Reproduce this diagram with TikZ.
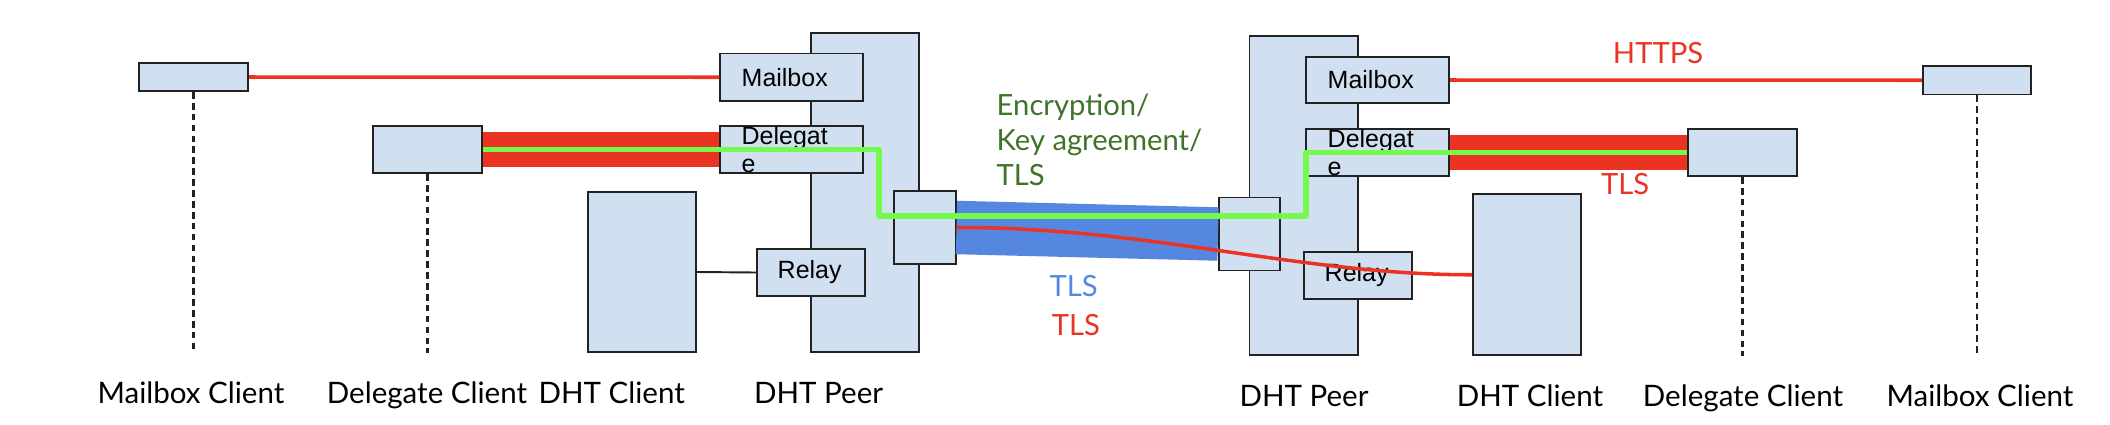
\documentclass[tikz,border=0pt]{standalone}
\usepackage{fontspec}
\setmainfont{Lato}
\newfontfamily\arialfont{Liberation Sans}
\usepackage{tikz}
\usetikzlibrary{calc,positioning}
\definecolor{boxfill}{RGB}{208,224,240}
\definecolor{boxline}{RGB}{34,34,34}
\definecolor{tlsred}{RGB}{234,51,35}
\definecolor{tlsblue}{RGB}{86,135,224}
\definecolor{keygreen}{RGB}{117,249,77}
\definecolor{txtgreen}{RGB}{62,115,40}

\begin{document}
\begin{tikzpicture}[x=0.01cm,y=-0.01cm,
  box/.style={draw=boxline,fill=boxfill,line width=0.55pt,inner sep=0pt},
  boxlbl/.style={inner sep=0pt,align=left,font=\arialfont\fontsize{7.1}{8.1}\selectfont},
  caption/.style={inner sep=0pt,anchor=base,font=\fontsize{8.4}{10}\selectfont},
  proto/.style={inner sep=0pt,align=left,font=\fontsize{8.3}{9.9}\selectfont},
  thinred/.style={tlsred,line width=1pt},
  redband/.style={tlsred,line width=10.1pt},
  blueband/.style={tlsblue,line width=15.2pt},
  greenline/.style={keygreen,line width=1.7pt,line join=round},
  dashline/.style={boxline,line width=0.68pt,dash pattern=on 1.9pt off 1.2pt}]
\useasboundingbox (0,0) rectangle (2110,424);

\node[box,minimum width=1.08cm,minimum height=3.19cm] (peerL) at (865,192.5) {};
\node[box,minimum width=1.085cm,minimum height=3.19cm] (peerR) at (1303.75,195.5) {};
\node[box,minimum width=1.09cm,minimum height=0.28cm] (mcL) at (193.5,77) {};
\node[box,minimum width=1.08cm,minimum height=0.285cm] (mcR) at (1977,80.25) {};
\node[box,minimum width=1.09cm,minimum height=0.47cm] (dcL) at (427.5,149.5) {};
\node[box,minimum width=1.09cm,minimum height=0.47cm] (dcR) at (1742.5,152.5) {};
\node[box,minimum width=1.08cm,minimum height=1.6cm] (dhtcL) at (642,272) {};
\node[box,minimum width=1.08cm,minimum height=1.605cm] (dhtcR) at (1527,274.75) {};
\node[box,minimum width=1.43cm,minimum height=0.475cm] (mbL) at (791.5,77.25) {};
\node[box,minimum width=1.43cm,minimum height=0.46cm] (mbR) at (1377.5,80) {};
\node[box,minimum width=1.43cm,minimum height=0.47cm] (dgL) at (791.5,149.5) {};
\node[box,minimum width=1.43cm,minimum height=0.47cm] (dgR) at (1377.5,152.5) {};
\node[box,minimum width=1.08cm,minimum height=0.47cm] (rlL) at (811,272.5) {};
\node[box,minimum width=1.08cm,minimum height=0.47cm] (rlR) at (1358,275.5) {};
\node[box,minimum width=0.615cm,minimum height=0.73cm] (cnL) at (924.75,227.5) {};
\node[box,minimum width=0.61cm,minimum height=0.73cm] (cnR) at (1249.5,234) {};

\node[boxlbl,right=2.2mm of mbL.west] (mbLtxt) {Mailbox};
\node[boxlbl,right=2.2mm of mbR.west] (mbRtxt) {Mailbox};
\node[boxlbl,right=2.2mm of dgL.west] (dgLtxt) {Delegat\\e};
\node[boxlbl,right=2.2mm of dgR.west] (dgRtxt) {Delegat\\e};
\node[boxlbl,right=2.1mm of rlL.west] (rlLtxt) {Relay};
\node[boxlbl,right=2.1mm of rlR.west] (rlRtxt) {Relay};

\coordinate (gL) at (879,216);
\coordinate (gR) at (1306,216);

\draw[boxline,line width=0.55pt] (dhtcL.east) -- (rlL.west);
\draw[thinred] (mcL.east) -- (mbL.west);
\draw[thinred] (mbR.east) -- (mcR.west);
\draw[redband] (dcL.east) -- (dgL.west);
\draw[redband] (dgR.east) -- (dcR.west);
\draw[blueband] (cnL.east) -- (cnR.west);
\draw[greenline] (dcL.east) -| (gL) -- (gR) |- (dcR.west);
\draw[thinred] (cnL.east) .. controls (1150,227) and (1300,275) .. (dhtcR.west);

\draw[dashline] (mcL.south) -- (mcL.south |- dhtcL.south);
\draw[dashline] (dcL.south) -- (dcL.south |- dhtcL.south);
\draw[dashline] (dcR.south) -- (dcR.south |- dhtcR.south);
\draw[dashline] (mcR.south) -- (mcR.south |- dhtcR.south);

\node[proto,text=txtgreen,anchor=west] (enc) at (996,140) {Encryption/\\Key agreement/\\TLS};
\node[proto,text=tlsred] (https) at (1658,52.7) {HTTPS};
\node[proto,text=tlsred] (tlsR) at (1625,183.7) {TLS};
\node[proto,text=tlsblue] (tlsB) at (1073.6,286.3) {TLS};
\node[proto,text=tlsred] (tlsM) at (1076,325) {TLS};

\foreach \x/\y/\t/\n in {191/403/Mailbox Client/c1,427/403/Delegate Client/c2,611.7/403/DHT Client/c3,818.6/403/DHT Peer/c4,
  1304/406/DHT Peer/c5,1530/406/DHT Client/c6,1743/406/Delegate Client/c7,1980/406/Mailbox Client/c8}
\node[caption] (\n) at (\x,\y) {\t};
\end{tikzpicture}
\end{document}
